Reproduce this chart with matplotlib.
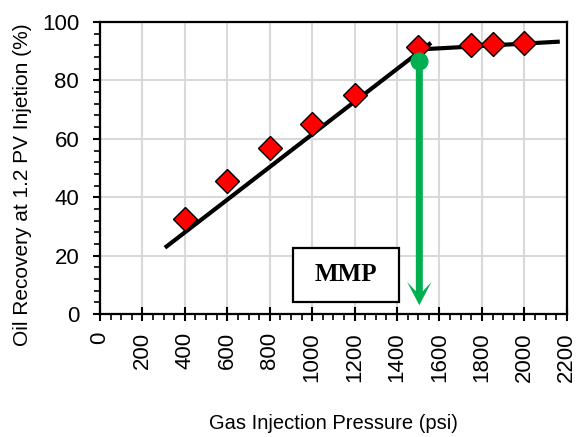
import matplotlib.pyplot as plt
import numpy as np
from matplotlib.ticker import MultipleLocator
from matplotlib.patches import Rectangle

plt.rcParams['font.family'] = ['Liberation Sans', 'DejaVu Sans']

# measured points
pressure = [400, 600, 800, 1000, 1200, 1500, 1750, 1850, 2000]
recovery = [32.5, 45.5, 57, 65, 75, 91.5, 92, 92.5, 93]

# trend lines (end points)
fit1_x = [306, 1560]
fit1_y = [22.7, 92.9]
fit2_x = [1500, 2167]
fit2_y = [90.6, 93.3]

mmp_x = 1505
mmp_y = 86.7
arrow_end = 3.0

fig = plt.figure(figsize=(5.77, 4.37), dpi=100)
ax = fig.add_axes([0.1733, 0.2815, 0.809, 0.668])

ax.grid(True, which='major', color='#d9d9d9', linewidth=1.5, zorder=0)
ax.set_axisbelow(True)

ax.plot(fit1_x, fit1_y, color='black', linewidth=3, zorder=3, solid_capstyle='butt')
ax.plot(fit2_x, fit2_y, color='black', linewidth=3, zorder=3, solid_capstyle='butt')
ax.plot(pressure, recovery, linestyle='none', marker='D', markersize=12,
        markerfacecolor='#ff0000', markeredgecolor='black', markeredgewidth=1, zorder=4)

# green MMP arrow (width in x data units, head length in y data units)
ax.arrow(mmp_x, mmp_y, 0, arrow_end - mmp_y, width=33, head_width=115, head_length=8,
         overhang=0.4, length_includes_head=True, color='#00b050', linewidth=0, zorder=5)
ax.plot([mmp_x], [mmp_y], marker='o', markersize=12, color='#00b050', zorder=5)

ax.add_patch(Rectangle((909, 4.1), 500, 18.5, facecolor='white', edgecolor='black',
                       linewidth=1.6, zorder=6))
ax.text(1161, 13.4, 'MMP', fontsize=18, fontweight='bold', family='Liberation Serif',
        ha='center', va='center', zorder=7)

ax.set_xlim(0, 2200)
ax.set_ylim(0, 100)
ax.xaxis.set_major_locator(MultipleLocator(200))
ax.xaxis.set_minor_locator(MultipleLocator(50))
ax.yaxis.set_major_locator(MultipleLocator(20))
ax.yaxis.set_minor_locator(MultipleLocator(4))

ax.tick_params(axis='x', which='major', direction='inout', length=10, width=1.5,
               labelsize=16, pad=8)
ax.tick_params(axis='y', which='major', direction='out', length=5, width=1.5,
               labelsize=16, pad=10)
ax.tick_params(axis='both', which='minor', direction='out', length=4, width=1.2)
for lab in ax.get_xticklabels():
    lab.set_rotation(90)

for s in ax.spines.values():
    s.set_linewidth(1.6)

ax.set_xlabel('Gas Injection Pressure (psi)', fontsize=14.5)
ax.set_ylabel('Oil Recovery at 1.2 PV Injetion (%)', fontsize=15)
ax.xaxis.set_label_coords(0.5, -0.342)
ax.yaxis.set_label_coords(-0.145, 0.442)

fig.savefig('out.png', dpi=100)
